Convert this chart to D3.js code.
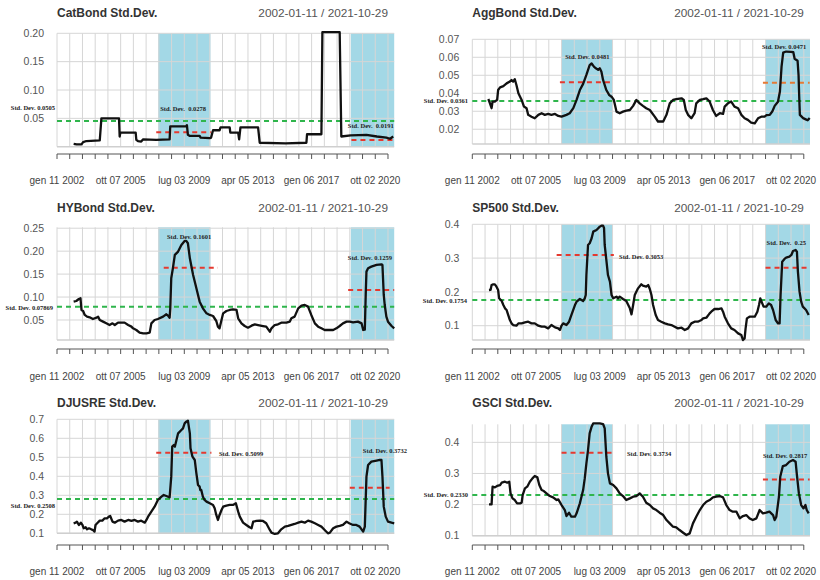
<!DOCTYPE html>
<html><head><meta charset="utf-8">
<script src="https://cdn.jsdelivr.net/npm/d3@7"></script>
<style>body{margin:0;background:#fff}svg{display:block}</style>
</head><body>
<svg id="c" width="820" height="580"></svg>
<script>
// ---------- DATA ----------
const nWeeks = 1033; // weekly observations 2002-01-11 .. 2021-10-29 (index)
const tickLabels = ["gen 11 2002","ott 07 2005","lug 03 2009","apr 05 2013","gen 06 2017","ott 02 2020"];
const tickLabelWeeks = [0,195,390,585,780,975];
const tickStep = 39;
const dateRange = "2002-01-11 / 2021-10-29";
const titles = ["CatBond Std.Dev.","AggBond Std.Dev.","HYBond Std.Dev.","SP500 Std.Dev.","DJUSRE Std.Dev.","GSCI Std.Dev."];

const catbond = [[51,0.005],[60,0.004],[75,0.004],[80,0.008],[90,0.010],[131,0.011],[136,0.050],[190,0.050],[192,0.018],[194,0.025],[241,0.025],[243,0.012],[248,0.010],[258,0.009],[264,0.013],[304,0.012],[345,0.013],[347,0.036],[396,0.036],[398,0.038],[401,0.021],[407,0.019],[437,0.019],[440,0.016],[468,0.015],[472,0.016],[478,0.029],[498,0.029],[501,0.034],[529,0.034],[531,0.025],[555,0.025],[558,0.013],[562,0.034],[616,0.034],[621,0.007],[700,0.006],[764,0.007],[766,0.022],[810,0.022],[813,0.202],[866,0.202],[871,0.018],[900,0.020],[948,0.021],[980,0.018],[1009,0.016],[1020,0.014],[1030,0.018]];

const aggbond = [[49,0.0368],[54,0.0344],[59,0.0317],[62,0.0354],[69,0.0354],[76,0.0363],[79,0.0418],[85,0.0433],[95,0.044],[105,0.0455],[115,0.0465],[120,0.0474],[125,0.0465],[130,0.0478],[135,0.0446],[141,0.040],[151,0.0363],[158,0.0326],[166,0.0317],[171,0.028],[181,0.027],[191,0.0261],[202,0.028],[212,0.0289],[222,0.028],[232,0.0285],[242,0.028],[253,0.0285],[263,0.0274],[273,0.027],[288,0.028],[298,0.0289],[309,0.0317],[319,0.0363],[329,0.0418],[339,0.0452],[349,0.0502],[359,0.0557],[365,0.0566],[372,0.0548],[378,0.0539],[385,0.053],[390,0.0539],[395,0.052],[400,0.0474],[410,0.0418],[419,0.039],[426,0.0381],[433,0.0363],[441,0.0298],[451,0.0289],[461,0.0298],[471,0.0304],[482,0.0307],[492,0.033],[502,0.0363],[512,0.0344],[522,0.033],[532,0.0317],[543,0.0307],[558,0.027],[568,0.0243],[584,0.0243],[594,0.028],[604,0.0344],[614,0.0363],[624,0.0367],[640,0.0372],[647,0.0363],[653,0.0307],[660,0.028],[670,0.0261],[680,0.0289],[685,0.0344],[696,0.0363],[706,0.0367],[716,0.0372],[726,0.0354],[736,0.0307],[746,0.0274],[757,0.0289],[767,0.0285],[772,0.0326],[782,0.0344],[792,0.0354],[802,0.0326],[813,0.0317],[823,0.028],[833,0.0261],[843,0.0252],[853,0.0237],[864,0.0233],[874,0.0261],[884,0.027],[894,0.027],[900,0.0279],[910,0.028],[918,0.030],[925,0.033],[935,0.0353],[941,0.041],[946,0.0548],[951,0.0626],[960,0.0632],[975,0.063],[982,0.0628],[986,0.0592],[995,0.0581],[998,0.050],[1000,0.038],[1002,0.028],[1012,0.0262],[1020,0.0255],[1026,0.025],[1032,0.0262]];

const hybond = [[51,0.090],[59,0.0914],[67,0.0958],[72,0.0973],[75,0.0718],[80,0.0696],[85,0.061],[92,0.0573],[100,0.0558],[110,0.0522],[121,0.055],[126,0.0573],[131,0.050],[141,0.0464],[151,0.0427],[161,0.039],[170,0.0427],[177,0.039],[187,0.0442],[197,0.0442],[207,0.0442],[218,0.039],[228,0.0355],[233,0.0318],[243,0.0282],[253,0.0224],[264,0.021],[274,0.021],[284,0.0224],[289,0.0427],[299,0.050],[309,0.0522],[325,0.0573],[335,0.0624],[340,0.0595],[345,0.055],[347,0.0754],[350,0.141],[355,0.1627],[361,0.1918],[371,0.199],[381,0.2136],[391,0.2223],[396,0.2223],[401,0.2172],[407,0.1845],[417,0.1482],[427,0.119],[437,0.090],[447,0.0754],[458,0.0645],[468,0.061],[478,0.0587],[488,0.0478],[493,0.0355],[498,0.0318],[504,0.050],[509,0.0645],[519,0.0696],[529,0.0718],[539,0.0733],[550,0.0718],[555,0.0536],[565,0.0427],[575,0.0369],[585,0.0333],[596,0.0376],[606,0.0405],[616,0.039],[631,0.0369],[641,0.0355],[652,0.0245],[657,0.0318],[667,0.039],[677,0.0405],[687,0.0442],[703,0.0442],[713,0.0464],[718,0.0536],[728,0.0573],[739,0.0754],[749,0.0813],[759,0.0827],[769,0.0791],[779,0.061],[790,0.0427],[800,0.0355],[810,0.0318],[820,0.0282],[836,0.0282],[846,0.0282],[856,0.0318],[866,0.0369],[876,0.0427],[887,0.0464],[897,0.0464],[907,0.045],[922,0.0464],[933,0.0427],[938,0.0282],[943,0.029],[946,0.1118],[948,0.1554],[953,0.1627],[963,0.1663],[979,0.170],[994,0.1714],[997,0.170],[1001,0.1045],[1004,0.0827],[1009,0.0573],[1014,0.0464],[1025,0.0369],[1033,0.0318]];

const sp500 = [[51,0.2056],[56,0.206],[59,0.2204],[64,0.2224],[69,0.2224],[74,0.2155],[79,0.2056],[82,0.181],[90,0.173],[95,0.1612],[100,0.1513],[105,0.1464],[110,0.1316],[115,0.1168],[120,0.1069],[125,0.102],[135,0.100],[141,0.1069],[151,0.1069],[161,0.1099],[171,0.1118],[181,0.1069],[191,0.1069],[202,0.100],[212,0.097],[222,0.097],[232,0.0921],[242,0.102],[253,0.0951],[263,0.0921],[268,0.0872],[273,0.100],[278,0.1069],[288,0.102],[296,0.1118],[303,0.1316],[314,0.1612],[319,0.1711],[329,0.179],[339,0.173],[344,0.181],[347,0.1908],[349,0.25],[354,0.3389],[359,0.3438],[365,0.3586],[370,0.3783],[380,0.3833],[390,0.3931],[395,0.396],[400,0.396],[403,0.389],[405,0.3389],[410,0.2945],[415,0.25],[421,0.2303],[426,0.1908],[431,0.181],[441,0.1859],[446,0.181],[451,0.1859],[461,0.179],[471,0.173],[482,0.1513],[487,0.1336],[492,0.1612],[497,0.1908],[507,0.2105],[517,0.2224],[522,0.2184],[532,0.2155],[538,0.2204],[543,0.2085],[548,0.1908],[553,0.1612],[561,0.1316],[568,0.1168],[578,0.1118],[589,0.1069],[599,0.1039],[609,0.102],[619,0.097],[629,0.0921],[640,0.094],[650,0.0872],[660,0.0921],[670,0.1069],[680,0.1118],[690,0.1118],[701,0.1168],[706,0.1217],[716,0.1237],[726,0.1365],[731,0.1415],[741,0.1494],[752,0.1494],[762,0.1513],[767,0.1415],[772,0.1267],[782,0.1069],[792,0.0921],[802,0.0872],[813,0.0773],[823,0.0724],[828,0.0576],[833,0.0625],[836,0.0921],[840,0.1217],[848,0.1267],[864,0.1267],[872,0.1415],[877,0.1612],[881,0.181],[887,0.1661],[891,0.1563],[899,0.1563],[907,0.1661],[914,0.1612],[920,0.1464],[928,0.1168],[935,0.1069],[940,0.1069],[943,0.1908],[948,0.2895],[955,0.2974],[960,0.3013],[970,0.3043],[976,0.3092],[981,0.3211],[989,0.324],[993,0.319],[996,0.26],[1001,0.2007],[1006,0.1711],[1011,0.1563],[1021,0.1464],[1029,0.1316]];

const djusre = [[51,0.1526],[57,0.156],[61,0.1614],[67,0.1439],[73,0.156],[78,0.1439],[82,0.1263],[88,0.1316],[92,0.121],[98,0.1263],[105,0.121],[110,0.1175],[115,0.1088],[118,0.1439],[123,0.1526],[131,0.1667],[139,0.1667],[146,0.1789],[153,0.1789],[159,0.1877],[163,0.1912],[170,0.1614],[177,0.156],[187,0.1667],[197,0.1702],[207,0.1614],[218,0.1702],[228,0.1649],[238,0.1702],[248,0.1614],[258,0.1667],[269,0.156],[274,0.1702],[279,0.1877],[289,0.214],[299,0.2403],[309,0.2754],[320,0.2929],[327,0.3017],[335,0.2964],[345,0.2894],[350,0.3982],[353,0.556],[358,0.5648],[361,0.556],[366,0.5911],[371,0.6262],[381,0.6437],[386,0.6525],[391,0.6788],[396,0.6876],[401,0.6929],[407,0.6262],[409,0.5473],[415,0.5034],[422,0.4859],[427,0.4157],[432,0.3543],[437,0.3455],[439,0.328],[442,0.328],[447,0.2929],[452,0.2754],[458,0.2666],[468,0.2579],[478,0.2491],[483,0.2315],[488,0.1965],[493,0.1702],[498,0.1965],[504,0.2228],[509,0.2403],[519,0.2456],[529,0.2491],[539,0.2491],[548,0.2579],[555,0.214],[560,0.1877],[570,0.156],[580,0.1439],[590,0.1316],[596,0.1263],[601,0.1614],[611,0.1649],[621,0.1667],[631,0.1649],[641,0.1526],[652,0.1175],[657,0.1035],[667,0.0965],[677,0.100],[687,0.121],[698,0.1351],[708,0.1386],[718,0.1439],[728,0.1491],[739,0.156],[749,0.1614],[759,0.156],[769,0.1667],[779,0.1614],[790,0.1526],[800,0.1439],[810,0.1351],[820,0.1175],[830,0.100],[836,0.1035],[846,0.1263],[856,0.1351],[866,0.1386],[876,0.1439],[887,0.1614],[895,0.1526],[907,0.1439],[917,0.1439],[927,0.1351],[938,0.1088],[943,0.1351],[948,0.3982],[953,0.4596],[963,0.4771],[979,0.4824],[989,0.4859],[994,0.4859],[997,0.3982],[1001,0.2403],[1007,0.1877],[1014,0.1614],[1025,0.156],[1033,0.1526]];

const gsci = [[51,0.2007],[59,0.2007],[62,0.2575],[69,0.2553],[76,0.26],[85,0.2628],[90,0.2703],[100,0.2735],[107,0.2703],[113,0.2735],[117,0.236],[123,0.22],[130,0.2146],[137,0.2039],[146,0.2039],[151,0.206],[154,0.2307],[161,0.2521],[168,0.2575],[176,0.2735],[184,0.2842],[191,0.2917],[199,0.2874],[205,0.2628],[212,0.2467],[217,0.2446],[227,0.236],[237,0.2275],[247,0.2232],[258,0.2146],[263,0.2167],[273,0.1985],[283,0.1825],[288,0.1632],[296,0.1739],[303,0.161],[314,0.161],[319,0.1718],[329,0.2039],[339,0.2467],[344,0.2842],[349,0.3324],[354,0.3753],[359,0.4289],[365,0.4503],[370,0.461],[380,0.461],[390,0.461],[400,0.4589],[405,0.4449],[410,0.3538],[415,0.3003],[421,0.2682],[431,0.2628],[441,0.2521],[451,0.236],[461,0.2275],[471,0.2146],[482,0.22],[492,0.2253],[502,0.2275],[512,0.236],[522,0.2253],[532,0.206],[543,0.1985],[553,0.1878],[563,0.1825],[573,0.1739],[584,0.1664],[594,0.1503],[604,0.1396],[614,0.1289],[624,0.1268],[634,0.1182],[645,0.1096],[655,0.1021],[665,0.1075],[675,0.1396],[685,0.161],[696,0.1825],[706,0.1985],[716,0.2092],[726,0.2146],[736,0.2232],[746,0.2253],[757,0.2275],[767,0.2232],[777,0.1985],[787,0.1825],[797,0.1771],[808,0.1771],[818,0.1557],[828,0.1632],[838,0.1664],[848,0.1557],[858,0.1503],[869,0.1557],[879,0.1825],[889,0.1718],[899,0.1739],[909,0.1771],[920,0.1664],[925,0.1503],[930,0.161],[938,0.2253],[942,0.2896],[950,0.3238],[960,0.3271],[970,0.3378],[981,0.3431],[989,0.3378],[993,0.295],[999,0.236],[1006,0.1985],[1013,0.1878],[1019,0.1985],[1023,0.1825],[1029,0.1718]];

const series = [catbond, aggbond, hybond, sp500, djusre, gsci];
const yDomains = [[0,0.2],[0.0118,0.07],[0.0064,0.252],[0.0577,0.4],[0.1,0.7],[0.1,0.458]];
const yTicks = [[0.05,0.10,0.15,0.20],[0.02,0.03,0.04,0.05,0.06,0.07],[0.05,0.10,0.15,0.20,0.25],[0.1,0.2,0.3,0.4],[0.1,0.2,0.3,0.4,0.5,0.6,0.7],[0.1,0.2,0.3,0.4]];
const yTickFormat = [".2f",".2f",".2f",".1f",".1f",".1f"];
const overallLevel = [0.0453,0.0357,0.0791,0.176,0.2807,0.2307];
const overallLabel = ["Std. Dev. 0.0505","Std. Dev. 0.0361","Std. Dev. 0.07869","Std. Dev. 0.1754","Std. Dev. 0.2508","Std. Dev. 0.2330"];
const crisisLevel = [[0.0253,0.0118],[0.0461,0.0459],[0.1641,0.1154],[0.3092,0.2717],[0.5245,0.3403],[0.3667,0.281]];
const crisisLabel = [["Std. Dev.  0.0278","Std. Dev.  0.0191"],["Std. Dev. 0.0481","Std. Dev. 0.0471"],["Std. Dev. 0.1601","Std. Dev. 0.1259"],["Std. Dev. 0.3053","Std. Dev.  0.25"],["Std. Dev. 0.5099","Std. Dev. 0.3732"],["Std. Dev. 0.3734","Std. Dev. 0.2817"]];
const crisisSpan = [[[304,473],[902,1030]],[[268,433],[889,1032]],[[327,493],[892,1033]],[[258,433],[897,1026]],[[304,473],[897,1019]],[[273,433],[889,1032]]];
const shadeSpan = [[[310,470],[900,1033]],[[273,428],[897,1033]]]; // per column

// ---------- LAYOUT / STYLE ----------
const colX = [[57,394.2],[472.3,810]];
const rowAxisY = [154,349,545];
const rowLabelY = [180,376.7,571.7];
const rowTitleY = [17,212,407];
const plotPx = [[33.3,146.7],[39.3,144],[227.3,340],[224.3,340],[419.3,533.3],[424.3,535.7]];
// annotation anchors: [week, value, text-anchor] for overall, crisis1, crisis2
const annotPos = [
  [[-6,0.0683,"end"],[316,0.0665,"start"],[891,0.0365,"start"]],
  [[-13,0.0357,"end"],[284,0.0602,"start"],[886,0.0657,"start"]],
  [[-12,0.0762,"end"],[337,0.2318,"start"],[891,0.1853,"start"]],
  [[-16,0.173,"end"],[449,0.3033,"start"],[900,0.3456,"start"]],
  [[-6,0.2437,"end"],[496,0.5174,"start"],[937,0.5332,"start"]],
  [[-13,0.2307,"end"],[473,0.3624,"start"],[889,0.356,"start"]]
];
const crisisColor = [["#e5392f","#e5392f"],["#e5392f","#e57a35"],["#e5392f","#e5392f"],["#e5392f","#e5392f"],["#e5392f","#e5392f"],["#e5392f","#e5392f"]];
const SHADE = "#a3d8e6", GRID = "#d6d6d6", GREEN = "#2fb54c";

const svg = d3.select("#c");
const sans = "'Liberation Sans', Arial, sans-serif";
const serif = "'Liberation Serif', 'DejaVu Serif', serif";

series.forEach((data, i) => {
  const col = i % 2, row = Math.floor(i / 2);
  const x = d3.scaleLinear().domain([0, nWeeks]).range(colX[col]);
  const y = d3.scaleLinear().domain(yDomains[i]).range([plotPx[i][1], plotPx[i][0]]);
  const g = svg.append("g");
  const yTop = y(yDomains[i][1]), yBot = y(yDomains[i][0]);

  // shaded periods
  g.selectAll("rect.shade").data(shadeSpan[col]).join("rect")
    .attr("x", d => x(d[0])).attr("width", d => x(d[1]) - x(d[0]))
    .attr("y", yTop).attr("height", yBot - yTop).attr("fill", SHADE);

  // grid
  const weeksTicks = d3.range(0, nWeeks, tickStep);
  g.selectAll("line.vg").data(weeksTicks).join("line")
    .attr("x1", d => x(d)).attr("x2", d => x(d)).attr("y1", yTop).attr("y2", yBot)
    .attr("stroke", GRID).attr("stroke-width", 1);
  g.selectAll("line.hg").data(yTicks[i]).join("line")
    .attr("x1", x(0)).attr("x2", x(nWeeks)).attr("y1", d => y(d)).attr("y2", d => y(d))
    .attr("stroke", GRID).attr("stroke-width", 1);
  g.append("line").attr("x1", x(0)).attr("x2", x(nWeeks)).attr("y1", yBot).attr("y2", yBot)
    .attr("stroke", "#cfcfcf").attr("stroke-width", 1.5);

  // y labels
  const fmt = d3.format(yTickFormat[i]);
  g.selectAll("text.yl").data(yTicks[i]).join("text")
    .attr("x", x(0) - 13).attr("y", d => y(d)).attr("dy", "0.35em")
    .attr("text-anchor", "end").attr("font-family", sans).attr("font-size", 10.5)
    .attr("fill", "#555").text(d => fmt(d));

  // x axis
  const axY = rowAxisY[row];
  g.append("line").attr("x1", x(0)).attr("x2", x(weeksTicks[weeksTicks.length-1]))
    .attr("y1", axY).attr("y2", axY).attr("stroke", "#555").attr("stroke-width", 1);
  g.selectAll("line.xt").data(weeksTicks).join("line")
    .attr("x1", d => x(d)).attr("x2", d => x(d)).attr("y1", axY).attr("y2", axY + 5)
    .attr("stroke", "#555").attr("stroke-width", 1);
  g.selectAll("text.xl").data(tickLabels).join("text")
    .attr("x", (d, k) => x(tickLabelWeeks[k])).attr("y", rowLabelY[row]).attr("dy", "0.35em")
    .attr("text-anchor", "middle").attr("font-family", sans).attr("font-size", 10)
    .attr("fill", "#444").text(d => d);

  // titles
  g.append("text").attr("x", x(0)).attr("y", rowTitleY[row])
    .attr("font-family", sans).attr("font-size", 12).attr("font-weight", "bold")
    .attr("fill", "#333").text(titles[i]);
  g.append("text").attr("x", x(weeksTicks[weeksTicks.length-1])).attr("y", rowTitleY[row])
    .attr("text-anchor", "end").attr("font-family", sans).attr("font-size", 11.8)
    .attr("fill", "#555").text(dateRange);

  // overall mean line
  g.append("line").attr("x1", x(0)).attr("x2", x(nWeeks))
    .attr("y1", y(overallLevel[i])).attr("y2", y(overallLevel[i]))
    .attr("stroke", GREEN).attr("stroke-width", 2).attr("stroke-dasharray", "5,4");
  // crisis lines
  crisisSpan[i].forEach((s, k) => {
    g.append("line").attr("x1", x(s[0])).attr("x2", x(s[1]))
      .attr("y1", y(crisisLevel[i][k])).attr("y2", y(crisisLevel[i][k]))
      .attr("stroke", crisisColor[i][k]).attr("stroke-width", 2).attr("stroke-dasharray", "5,4");
  });

  // series line
  const line = d3.line().x(d => x(d[0])).y(d => y(d[1]));
  g.append("path").datum(data).attr("d", line).attr("fill", "none")
    .attr("stroke", "#111").attr("stroke-width", 2.3).attr("stroke-linejoin", "round");

  // annotations
  const texts = [overallLabel[i], crisisLabel[i][0], crisisLabel[i][1]];
  texts.forEach((t, k) => {
    const a = annotPos[i][k];
    g.append("text").attr("x", x(a[0])).attr("y", y(a[1])).attr("dy", "0.35em")
      .attr("text-anchor", a[2]).attr("font-family", serif).attr("font-weight", "bold")
      .attr("font-size", 6.5).attr("fill", "#222")
      .style("white-space", "pre").text(t);
  });
});
</script>
</body></html>
